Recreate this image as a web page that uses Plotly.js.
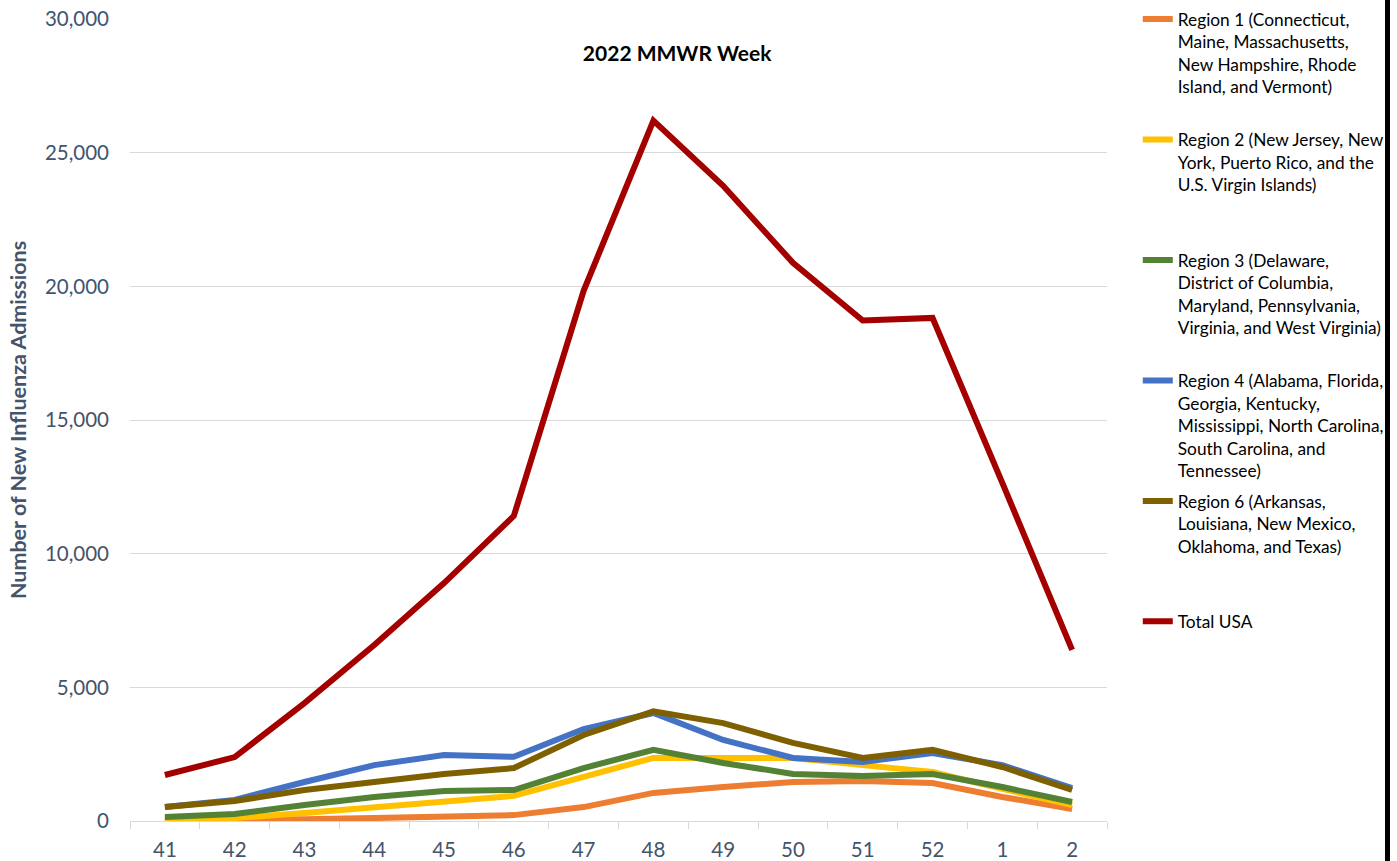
<!DOCTYPE html>
<html>
<head>
<meta charset="utf-8">
<script src="https://cdn.plot.ly/plotly-3.0.1.min.js"></script>
<style>
html,body{margin:0;padding:0;background:#fff;}
#chart{width:1397px;height:861px;}
</style>
</head>
<body>
<div id="chart"></div>
<script>
const weeks = ['41','42','43','44','45','46','47','48','49','50','51','52','1','2'];
const region1 = [20, 30, 70, 110, 150, 220, 520, 1050, 1270, 1460, 1500, 1420, 900, 450];
const region2 = [75, 110, 300, 520, 710, 940, 1650, 2360, 2360, 2360, 2090, 1830, 1200, 600];
const region3 = [150, 260, 600, 900, 1120, 1160, 1980, 2660, 2170, 1760, 1680, 1760, 1270, 710];
const region4 = [520, 790, 1460, 2090, 2470, 2400, 3440, 4040, 3030, 2360, 2210, 2540, 2090, 1230];
const region6 = [520, 750, 1160, 1460, 1760, 1980, 3220, 4100, 3660, 2920, 2360, 2660, 2020, 1160];
const totalUSA = [1720, 2390, 4410, 6580, 8900, 11410, 19830, 26200, 23760, 20880, 18720, 18820, 12650, 6400];

const seriesNames = [
  'Region 1 (Connecticut,<br>Maine, Massachusetts,<br>New Hampshire, Rhode<br>Island, and Vermont)<br> ',
  'Region 2 (New Jersey, New<br>York, Puerto Rico, and the<br>U.S. Virgin Islands)<br> <br> ',
  'Region 3 (Delaware,<br>District of Columbia,<br>Maryland, Pennsylvania,<br>Virginia, and West Virginia)<br> ',
  'Region 4 (Alabama, Florida,<br>Georgia, Kentucky,<br>Mississippi, North Carolina,<br>South Carolina, and<br>Tennessee)',
  'Region 6 (Arkansas,<br>Louisiana, New Mexico,<br>Oklahoma, and Texas)<br> <br> ',
  'Total USA'
];
const seriesValues = [region1, region2, region3, region4, region6, totalUSA];
const seriesColors = ['#ED7D31', '#FFC000', '#548235', '#4472C4', '#7F6000', '#A50000'];

const traces = seriesValues.map((vals, i) => ({
  type: 'scatter',
  mode: 'lines',
  x: weeks,
  y: vals,
  name: seriesNames[i],
  legendgroup: 'g' + i,
  line: {color: seriesColors[i], width: 6},
  hoverinfo: 'x+y+name'
}));

const layout = {
  width: 1397,
  height: 861,
  margin: {l: 130, r: 290, t: 19, b: 40, pad: 0, autoexpand: false},
  paper_bgcolor: '#ffffff',
  plot_bgcolor: '#ffffff',
  font: {family: 'Lato, "Open Sans", sans-serif', color: '#44546A'},
  title: {
    text: '<b>2022 MMWR Week</b>',
    font: {family: 'Lato, sans-serif', size: 21, color: '#000000'},
    xref: 'paper', x: 0.56, xanchor: 'center',
    yref: 'container', y: 1 - 54/861, yanchor: 'middle'
  },
  xaxis: {
    type: 'category',
    range: [-0.5, 13.5],
    tickson: 'boundaries',
    ticks: 'outside',
    ticklen: 7,
    tickcolor: '#D9D9D9',
    tickwidth: 1,
    showline: true,
    linecolor: '#D9D9D9',
    linewidth: 1,
    showgrid: false,
    zeroline: false,
    tickfont: {family: 'Lato, sans-serif', size: 20.5, color: '#44546A'},
    ticklabelstandoff: 10,
    automargin: false,
    fixedrange: true
  },
  yaxis: {
    range: [0, 30000],
    tickvals: [0, 5000, 10000, 15000, 20000, 25000, 30000],
    ticktext: ['0', '5,000', '10,000', '15,000', '20,000', '25,000', '30,000'],
    showgrid: true,
    gridcolor: '#D9D9D9',
    gridwidth: 1,
    showline: false,
    zeroline: false,
    ticks: '',
    ticklabelstandoff: 20,
    tickfont: {family: 'Lato, sans-serif', size: 20.5, color: '#44546A'},
    title: {
      text: '<b>Number of New Influenza Admissions</b>',
      font: {family: 'Lato, sans-serif', size: 21.5, color: '#44546A'},
      standoff: 12
    },
    automargin: false,
    fixedrange: true
  },
  shapes: [{
    type: 'line', xref: 'paper', yref: 'paper',
    x0: 1.2871, x1: 1.2871, y0: -0.06, y1: 1.03,
    line: {color: '#000000', width: 5}
  }],
  showlegend: true,
  legend: {
    x: 1.0315, xanchor: 'left',
    y: 1.022, yanchor: 'top',
    traceorder: 'grouped',
    tracegroupgap: 5,
    valign: 'top',
    maxheight: 850,
    bgcolor: 'rgba(0,0,0,0)',
    borderwidth: 0,
    itemwidth: 30,
    font: {family: 'Lato, sans-serif', size: 17.3, color: '#000000'}
  }
};

Plotly.newPlot('chart', traces, layout, {displayModeBar: false, staticPlot: false});
</script>
</body>
</html>
